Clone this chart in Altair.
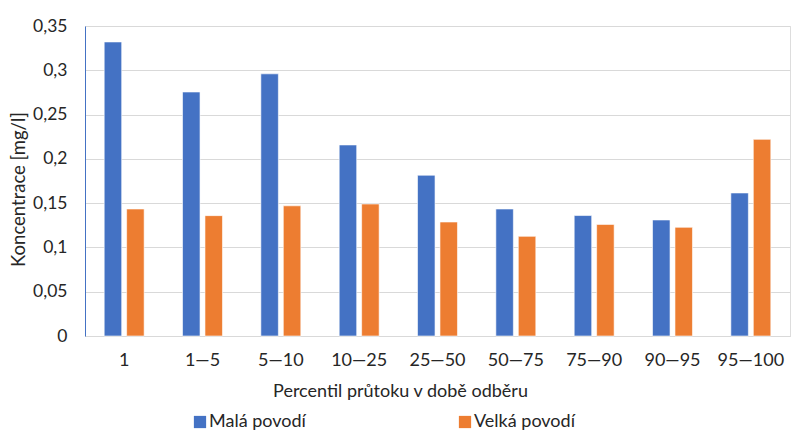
import altair as alt
import pandas as pd

categories = ["1", "1—5", "5—10", "10—25", "25—50", "50—75", "75—90", "90—95", "95—100"]
mala = [0.332, 0.2755, 0.296, 0.2157, 0.1815, 0.1434, 0.136, 0.131, 0.1615]
velka = [0.1434, 0.1359, 0.147, 0.149, 0.1287, 0.1125, 0.126, 0.1227, 0.222]
series = ["Malá povodí", "Velká povodí"]
colors = ["#4472C4", "#ED7D31"]

rows = []
for c, m, v in zip(categories, mala, velka):
    rows.append({"kat": c, "serie": series[0], "hodnota": m})
    rows.append({"kat": c, "serie": series[1], "hodnota": v})
df = pd.DataFrame(rows)

FONT = "Lato"
TXT = "#262626"
FS = 18

chart = alt.Chart(df).mark_bar(stroke="white", strokeWidth=0.6).encode(
    x=alt.X("kat:N", sort=categories,
            scale=alt.Scale(paddingInner=0.49, paddingOuter=0.245),
            axis=alt.Axis(title="Percentil průtoku v době odběru", labelAngle=0,
                          ticks=False, domainColor="#d9d9d9", labelPadding=15,
                          labelFontSize=FS, labelColor=TXT, labelFont=FONT,
                          titleFontSize=FS, titleColor=TXT, titleFont=FONT,
                          titleFontWeight="normal", titleX=315, titleY=60,
                          titleBaseline="alphabetic", titleAlign="center")),
    xOffset=alt.XOffset("serie:N", sort=series,
                        scale=alt.Scale(paddingInner=0.22, paddingOuter=0)),
    y=alt.Y("hodnota:Q",
            scale=alt.Scale(domain=[0, 0.35]),
            axis=alt.Axis(title="Koncentrace [mg/l]",
                          values=[0, 0.05, 0.1, 0.15, 0.2, 0.25, 0.3, 0.35],
                          labelExpr="replace(format(datum.value, '.2~f'), '.', ',')",
                          ticks=False, domainColor="#4472C4", domainWidth=1,
                          gridColor="#d9d9d9", labelPadding=18,
                          labelFontSize=17.5, labelColor=TXT, labelFont=FONT,
                          titleFontSize=18.5, titleColor=TXT, titleFont=FONT,
                          titleFontWeight="normal", titleX=-61, titleY=163,
                          titleBaseline="alphabetic", titleAlign="center")),
    color=alt.Color("serie:N", sort=series,
                    scale=alt.Scale(domain=series, range=colors),
                    legend=alt.Legend(title=None, orient="none", direction="horizontal",
                                      legendX=106, legendY=387,
                                      symbolType="square", symbolSize=150,
                                      symbolStrokeWidth=0, labelOffset=0,
                                      columnPadding=150,
                                      labelFontSize=FS, labelColor=TXT, labelFont=FONT)),
).properties(
    width=705, height=310,
    autosize=alt.AutoSizeParams(type="none"),
    padding={"left": 77, "top": 18, "right": 2, "bottom": 99},
).configure_view(stroke=None).configure(background="white")

chart.save("out.html", embed_options={"renderer": "svg", "actions": False})
